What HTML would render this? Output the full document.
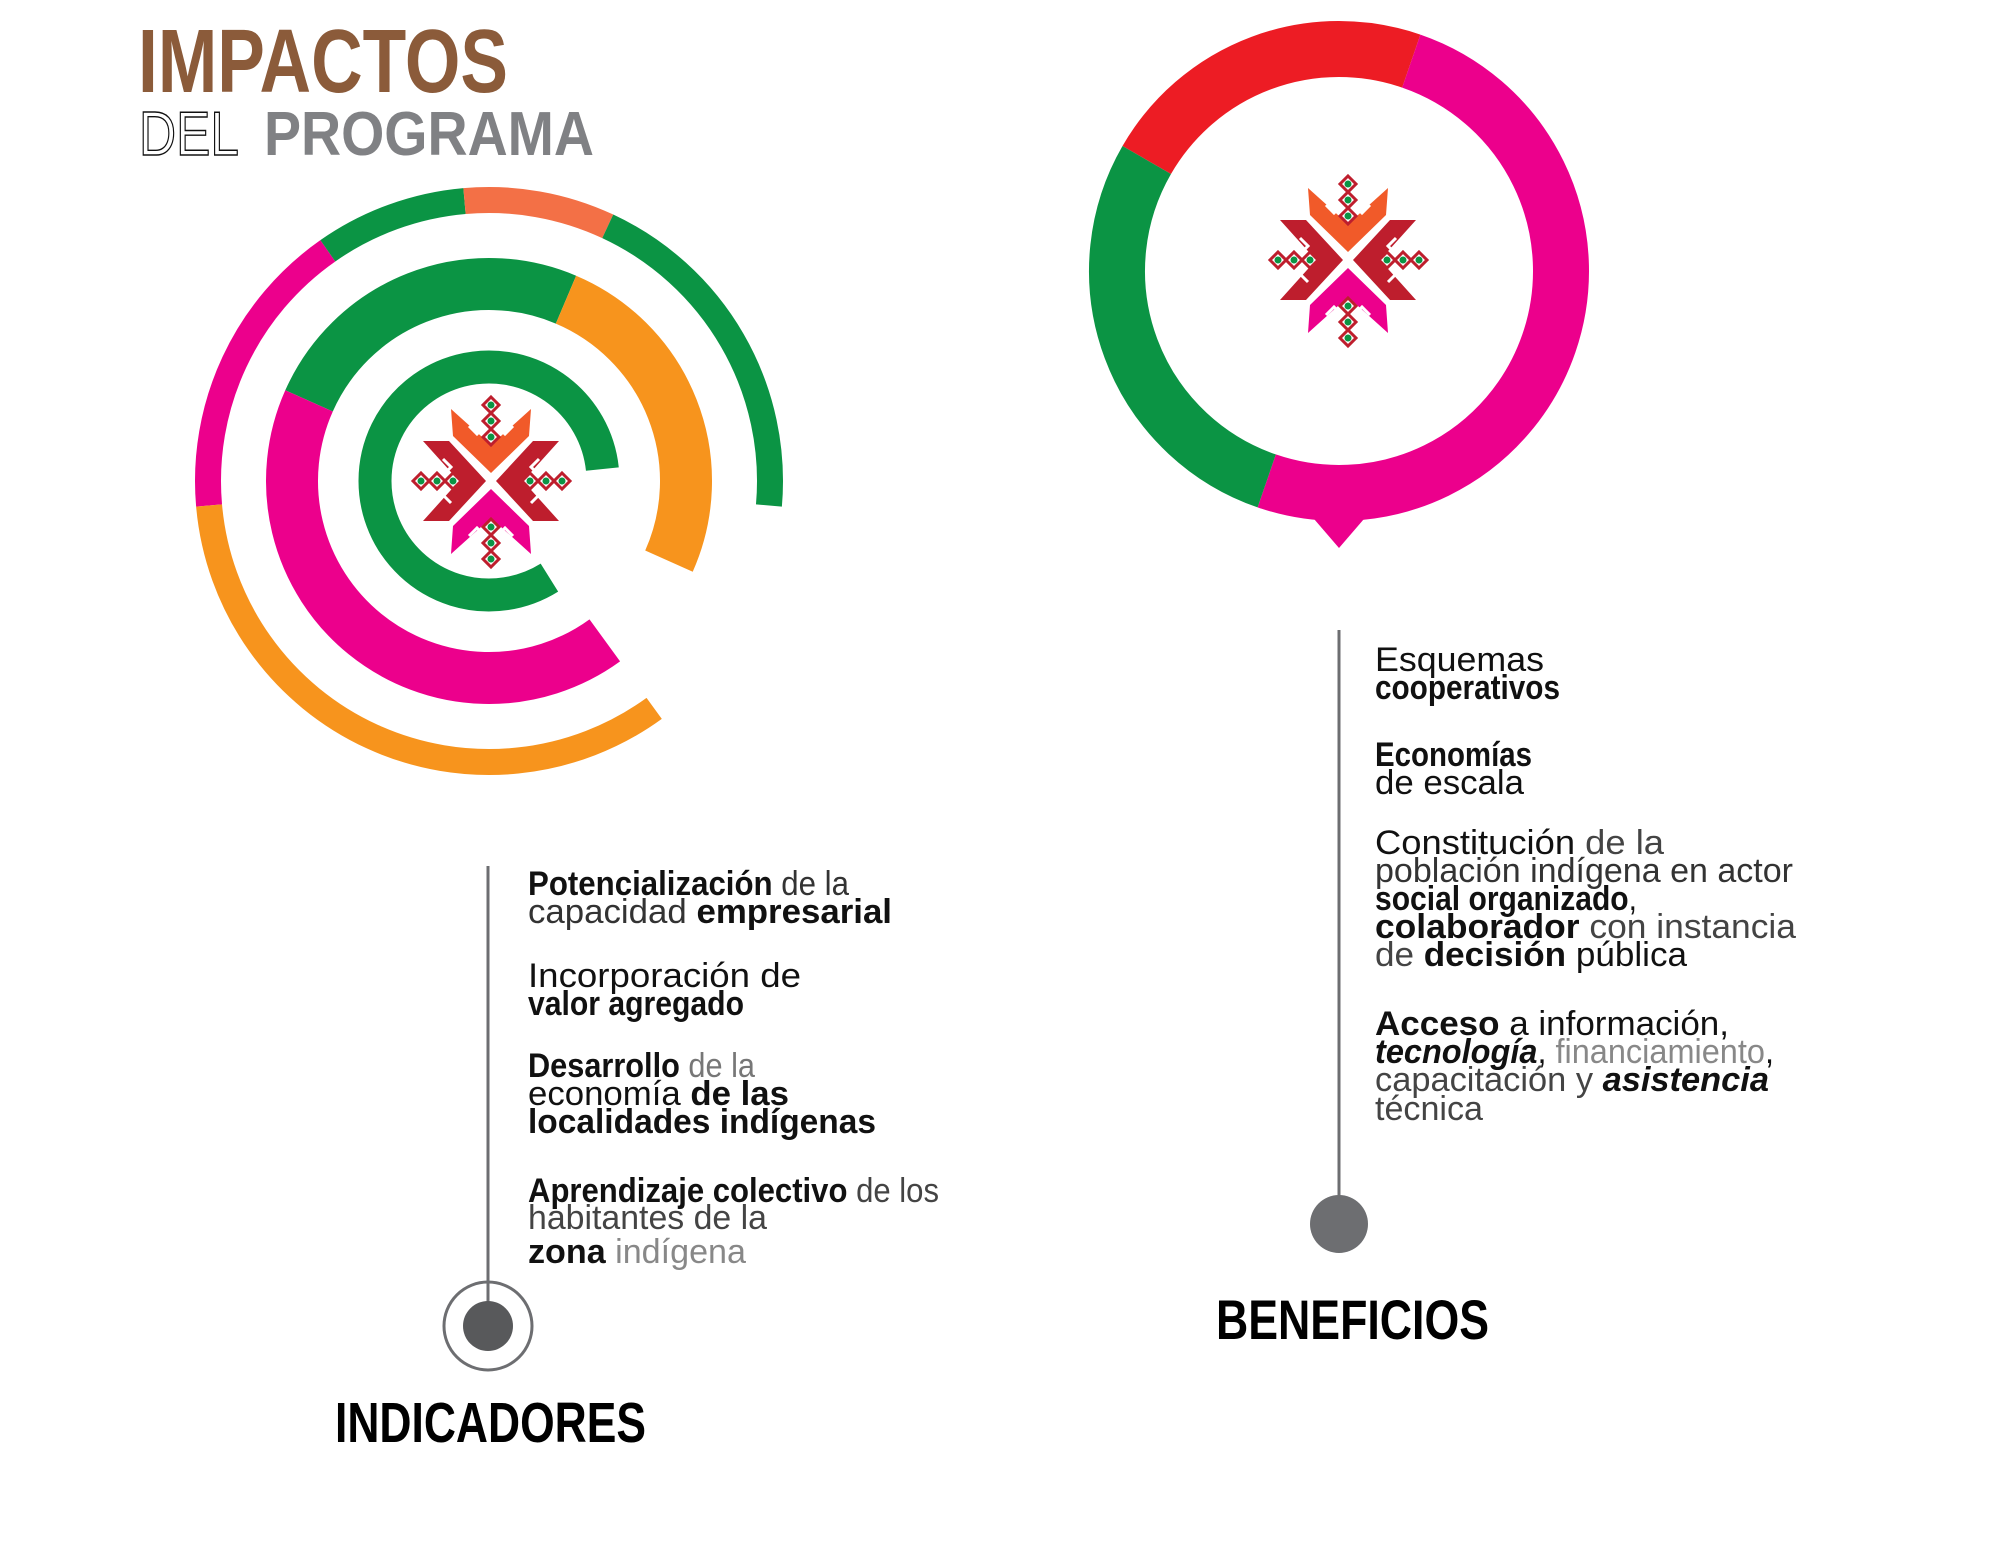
<!DOCTYPE html>
<html><head><meta charset="utf-8"><style>
html,body{margin:0;padding:0;background:#fff}
svg{display:block}
.b{font-weight:bold}
.t{font-family:"Liberation Sans",sans-serif}
</style></head><body>
<svg id="s" width="2000" height="1560" viewBox="0 0 2000 1560" xmlns="http://www.w3.org/2000/svg" class="t">
<g>
<text x="138" y="92" font-size="90" font-weight="bold" fill="#8B5B3A" textLength="370" lengthAdjust="spacingAndGlyphs">IMPACTOS</text>
<text x="139" y="155" font-size="62" fill="none" stroke="#111" stroke-width="1.4" textLength="100" lengthAdjust="spacingAndGlyphs">DEL</text>
<text x="264" y="155" font-size="62" font-weight="bold" fill="#808184" textLength="330" lengthAdjust="spacingAndGlyphs">PROGRAMA</text>
</g>
<g id="rings"></g>
<g id="logos"></g>

<line x1="488" y1="866" x2="488" y2="1302" stroke="#6d6e71" stroke-width="3"/>
<circle cx="488" cy="1326" r="44" fill="none" stroke="#6d6e71" stroke-width="3"/>
<circle cx="488" cy="1326" r="25" fill="#58595b"/>
<text x="335" y="1442" font-size="57" font-weight="bold" textLength="311" lengthAdjust="spacingAndGlyphs">INDICADORES</text>

<line x1="1339" y1="630" x2="1339" y2="1196" stroke="#6d6e71" stroke-width="3"/>
<circle cx="1339" cy="1224" r="29" fill="#6d6e71"/>
<text x="1216" y="1339" font-size="56" font-weight="bold" textLength="273" lengthAdjust="spacingAndGlyphs">BENEFICIOS</text>

<g font-size="34" fill="#111">
<text x="528" y="895" textLength="321" lengthAdjust="spacingAndGlyphs"><tspan class="b">Potencialización</tspan><tspan fill="#333"> de la</tspan></text>
<text x="528" y="923" textLength="364" lengthAdjust="spacingAndGlyphs"><tspan fill="#333">capacidad </tspan><tspan class="b">empresarial</tspan></text>
<text x="528" y="987" textLength="273" lengthAdjust="spacingAndGlyphs">Incorporación de</text>
<text x="528" y="1015" textLength="216" lengthAdjust="spacingAndGlyphs" class="b">valor agregado</text>
<text x="528" y="1077" textLength="227" lengthAdjust="spacingAndGlyphs"><tspan class="b">Desarrollo</tspan><tspan fill="#777"> de la</tspan></text>
<text x="528" y="1105" textLength="261" lengthAdjust="spacingAndGlyphs">economía <tspan class="b">de las</tspan></text>
<text x="528" y="1133" textLength="348" lengthAdjust="spacingAndGlyphs" class="b">localidades indígenas</text>
<text x="528" y="1202" textLength="411" lengthAdjust="spacingAndGlyphs"><tspan class="b">Aprendizaje colectivo</tspan><tspan fill="#444"> de los</tspan></text>
<text x="528" y="1229" textLength="239" lengthAdjust="spacingAndGlyphs" fill="#444">habitantes de la</text>
<text x="528" y="1263" textLength="218" lengthAdjust="spacingAndGlyphs"><tspan class="b">zona</tspan><tspan fill="#888"> indígena</tspan></text>
</g>
<g font-size="34" fill="#111">
<text x="1375" y="671" textLength="169" lengthAdjust="spacingAndGlyphs">Esquemas</text>
<text x="1375" y="699" textLength="185" lengthAdjust="spacingAndGlyphs" class="b">cooperativos</text>
<text x="1375" y="766" textLength="157" lengthAdjust="spacingAndGlyphs" class="b">Economías</text>
<text x="1375" y="794" textLength="149" lengthAdjust="spacingAndGlyphs">de escala</text>
<text x="1375" y="854" textLength="289" lengthAdjust="spacingAndGlyphs">Constitución <tspan fill="#444">de la</tspan></text>
<text x="1375" y="882" textLength="418" lengthAdjust="spacingAndGlyphs" fill="#333">población indígena en actor</text>
<text x="1375" y="910" textLength="262" lengthAdjust="spacingAndGlyphs"><tspan class="b">social organizado</tspan>,</text>
<text x="1375" y="938" textLength="421" lengthAdjust="spacingAndGlyphs"><tspan class="b">colaborador</tspan><tspan fill="#444"> con instancia</tspan></text>
<text x="1375" y="966" textLength="312" lengthAdjust="spacingAndGlyphs"><tspan fill="#444">de </tspan><tspan class="b">decisión</tspan> pública</text>
<text x="1375" y="1035" textLength="354" lengthAdjust="spacingAndGlyphs"><tspan class="b">Acceso</tspan> a información,</text>
<text x="1375" y="1063" textLength="399" lengthAdjust="spacingAndGlyphs"><tspan class="b" font-style="italic">tecnología</tspan>, <tspan fill="#888">financiamiento</tspan>,</text>
<text x="1375" y="1091" textLength="394" lengthAdjust="spacingAndGlyphs"><tspan fill="#444">capacitación y </tspan><tspan class="b" font-style="italic">asistencia</tspan></text>
<text x="1375" y="1120" textLength="108" lengthAdjust="spacingAndGlyphs" fill="#444">técnica</text>
</g>
</svg>
<script>
// ring segment data (angles in degrees, clockwise from top)
const segRing = [0,0,0,0,0, 1,1,1, 2, 3,3,3];
const segStart = [-95,-35,-5,25,144, -66,23,144, 148, -60,19,199];
const segEnd   = [-35,-5,25,95,265, 23,114,294, 444, 19,199,300];
const segColor = ["#EC008C","#0B9444","#F37046","#0B9444","#F7941D","#0B9444","#F7941D","#EC008C","#0B9444","#ED1C24","#EC008C","#0B9444"];
const segName = ["outer-pink","outer-green-a","outer-salmon","outer-green-b","outer-orange","middle-green","middle-orange","middle-pink","inner-green","right-red","right-pink","right-green"];
const ringCx = [489,489,489,1339], ringCy=[481,481,481,271], ringR=[281,197,114,222], ringW=[26,52,33,56];
const NS="http://www.w3.org/2000/svg";
function pt(cx,cy,r,a){const t=(a-90)*Math.PI/180;return [cx+r*Math.cos(t),cy+r*Math.sin(t)];}
function arc(cx,cy,r,a0,a1){const p=pt(cx,cy,r,a0),q=pt(cx,cy,r,a1);const lg=(a1-a0)>180?1:0;return `M${p[0]},${p[1]} A${r},${r} 0 ${lg} 1 ${q[0]},${q[1]}`;}
const rings=document.getElementById('rings');
const tri=document.createElementNS(NS,'polygon');
tri.setAttribute('points','1302,505 1376,505 1339,548');
tri.setAttribute('fill','#EC008C');


rings.appendChild(tri);
for(let i=0;i<segStart.length;i++){
 const k=segRing[i];
 const p=document.createElementNS(NS,'path');
 p.setAttribute('d',arc(ringCx[k],ringCy[k],ringR[k],segStart[i],segEnd[i]));
 p.setAttribute('fill','none');p.setAttribute('stroke',segColor[i]);p.setAttribute('stroke-width',ringW[k]);
 
 
 rings.appendChild(p);
}
function logo(cx,cy,name){
 const g=document.createElementNS(NS,'g');
 g.setAttribute('transform',`translate(${cx},${cy})`);
 
 
 const shapes=[
  ['#F15A29','-40,-72 -38,-45 0,-8 38,-45 40,-72 0,-36'],
  ['#EC008C','-40,73 -38,45 0,8 38,45 40,73 0,37'],
  ['#BE1E2D','-68,-40 -42,-40 -5,0 -42,40 -68,40 -32,0'],
  ['#BE1E2D','68,-40 42,-40 5,0 42,40 68,40 32,0']];
 for(const s of shapes){const p=document.createElementNS(NS,'polygon');p.setAttribute('points',s[1]);p.setAttribute('fill',s[0]);g.appendChild(p);}
 const hooks=['M-22,-55 l8,8 8,-8','M22,-55 l-8,8 -8,-8','M-22,55 l8,-8 8,8','M22,55 l-8,-8 -8,8','M-48,-22 l8,8 -8,8','M48,-22 l-8,8 8,8','M-48,14 l8,8','M48,14 l-8,8'];
 for(const h of hooks){const p=document.createElementNS(NS,'path');p.setAttribute('d',h);p.setAttribute('fill','none');p.setAttribute('stroke','#fff');p.setAttribute('stroke-width','3');g.appendChild(p);}
 const d=[[0,-76],[0,-60],[0,-44],[0,46],[0,62],[0,78],[-70,0],[-54,0],[-38,0],[39,0],[55,0],[71,0]];
 for(const [x,y] of d){
  const r=document.createElementNS(NS,'polygon');r.setAttribute('points',`${x},${y-8} ${x+8},${y} ${x},${y+8} ${x-8},${y}`);r.setAttribute('fill','#fff');r.setAttribute('stroke','#BE1E2D');r.setAttribute('stroke-width','3');g.appendChild(r);
  const c=document.createElementNS(NS,'circle');c.setAttribute('cx',x);c.setAttribute('cy',y);c.setAttribute('r','3.5');c.setAttribute('fill','#0B9444');g.appendChild(c);
 }
 document.getElementById('logos').appendChild(g);
}
logo(491,481,'left-logo');
logo(1348,260,'right-logo');
</script>
</body></html>
